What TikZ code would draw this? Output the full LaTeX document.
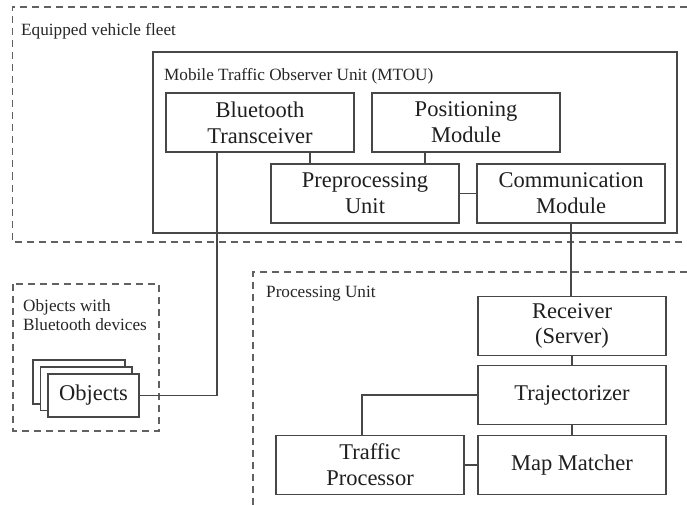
\documentclass[tikz,border=0pt]{standalone}
\usepackage{fontspec}
\setmainfont{Liberation Serif}
\begin{document}
\begin{tikzpicture}[x=1pt,y=-1pt,
  boxline/.style={draw=black!72,line width=1.4pt},
  blk/.style={boxline,fill=white,minimum width=188pt,minimum height=59pt,inner sep=0pt,align=center,text=black!88,font=\fontsize{22.5}{25.7}\selectfont},
  grp/.style={draw=black!62,line width=1.3pt,dash pattern=on 7pt off 5pt},
  lbl/.style={anchor=west,inner sep=0pt,align=left,text=black!85,font=\fontsize{17.2}{19}\selectfont},
  wire/.style={draw=black!72,line width=1.2pt}]
\useasboundingbox (0,0) rectangle (687,505);
% group outlines
\draw[grp] (687,7) -- (12.5,7) -- (12.5,242) -- (687,242);
\draw[grp] (687,272) -- (253,272) -- (253,505);
\draw[grp] (13,284) rectangle (159,431);
\node[lbl] (lfleet) at (21,31) {Equipped vehicle fleet};
\node[lbl] (lpu) at (266,294) {Processing Unit};
\node[lbl] (lobj) at (23,315.5) {Objects with\\Bluetooth devices};
% MTOU
\draw[boxline] (153,52) rectangle (677,233);
\node[lbl] (lmtou) at (164,76) {Mobile Traffic Observer Unit (MTOU)};
\node[blk] (BT) at (260,122.5) {Bluetooth\\Transceiver};
\node[blk] (Pos) at (466,122.5) {Positioning\\Module};
\node[blk] (Pre) at (365,193.5) {Preprocessing\\Unit};
\node[blk] (Com) at (571,193.5) {Communication\\Module};
% processing unit
\node[blk] (Rec) at (572,326) {Receiver\\(Server)};
\node[blk] (Tra) at (572,395) {Trajectorizer};
\node[blk] (Map) at (572,465) {Map Matcher};
\node[blk] (Tp) at (370,465) {Traffic\\Processor};
% objects stack
\draw[boxline,fill=white] (33,360) rectangle (125,404);
\draw[boxline,fill=white] (40.5,367) rectangle (132,410.5);
\node[blk,minimum width=91pt,minimum height=43pt] (Obj) at (93.5,395.5) {Objects};
% connectors
\draw[wire] ([xshift=50pt]BT.south) coordinate (a1) -- (a1 |- Pre.north);
\draw[wire] ([xshift=-41pt]Pos.south) coordinate (a2) -- (a2 |- Pre.north);
\draw[wire] (Pre.east) -- (Com.west);
\draw[wire] (Obj.east) -| ([xshift=-43pt]BT.south);
\draw[wire] (Com.south) -- (Com.south |- Rec.north);
\draw[wire] (Rec.south) -- (Tra.north);
\draw[wire] (Tra.south) -- (Map.north);
\draw[wire] (Tra.west) -| ([xshift=-8pt]Tp.north);
\draw[wire] (Tp.east) -- (Map.west);
\end{tikzpicture}
\end{document}
